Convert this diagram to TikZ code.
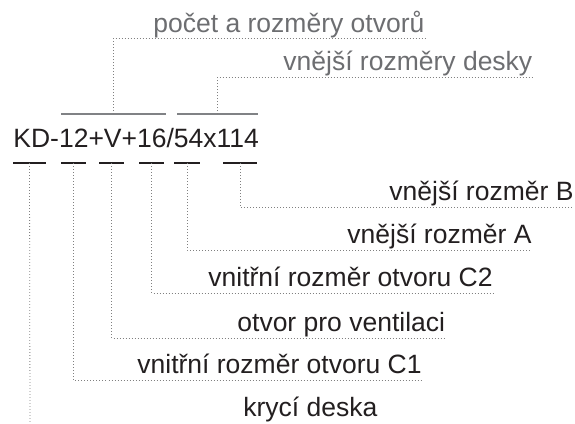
\documentclass[tikz,border=0pt]{standalone}
\usepackage{fontspec}
\setmainfont{Liberation Sans}
\usetikzlibrary{calc}
\definecolor{ink}{HTML}{231F20}
\definecolor{greytxt}{HTML}{6D6E71}
\definecolor{bargrey}{HTML}{808285}

\begin{document}
\begin{tikzpicture}[x=1pt,y=-1pt,thick] %% tikz
		\tikzstyle{popis}=[anchor=base west,inner sep=0pt,text=ink,font=\fontsize{26.5}{30}\selectfont]
		\tikzstyle{horni}=[popis,text=greytxt]
		\tikzstyle{tecky}=[draw=gray,line width=0.8pt,dash pattern=on 0.8pt off 2.2pt]
		\tikzstyle{podtrh}=[draw=ink,line width=1.3pt]
		\tikzstyle{zavorka}=[draw=bargrey,line width=1.3pt]
		\useasboundingbox (0,0) rectangle (575,423);
		%% code of the board
		\node[popis] (kod) at (13,147) {KD-12+V+16/54x114};
		%% bars above
		\draw[zavorka] (61,114) -- coordinate[midway] (h1) (166,114);
		\draw[zavorka] (177,114) -- coordinate[midway] (h2) (258,114);
		%% bars below
		\foreach \a/\b [count=\i] in {13/46,61/86,99/124,139/164,174/200,223/257}
			\draw[podtrh] (\a,163) -- coordinate[midway] (d\i) (\b,163);
		%% labels
		\node[horni] (pocet) at (153,32) {počet a rozměry otvorů};
		\node[horni] (deska) at (283,70) {vnější rozměry desky};
		\node[popis] (rozB) at (389,200) {vnější rozměr B};
		\node[popis] (rozA) at (347,243) {vnější rozměr A};
		\node[popis] (otvC2) at (208,286) {vnitřní rozměr otvoru C2};
		\node[popis] (vent) at (237,331) {otvor pro ventilaci};
		\node[popis] (otvC1) at (137,373) {vnitřní rozměr otvoru C1};
		\node[popis] (kryci) at (243,416) {krycí deska};
		\coordinate (dole) at (30,423);
		%% dotted leaders
		\draw[tecky] (h1) |- ([yshift=-6pt]pocet.base east);
		\draw[tecky] (h2) |- ([yshift=-7pt]deska.base east);
		\draw[tecky] (d6) |- ([yshift=-7pt]rozB.base east);
		\draw[tecky] (d5) |- ([yshift=-7pt]rozA.base east);
		\draw[tecky] (d4) |- ([yshift=-7pt]otvC2.base east);
		\draw[tecky] (d3) |- ([yshift=-7pt]vent.base east);
		\draw[tecky] (d2) |- ([yshift=-7pt]otvC1.base east);
		\draw[tecky] (d1) -- (dole);
	\end{tikzpicture}
\end{document}
